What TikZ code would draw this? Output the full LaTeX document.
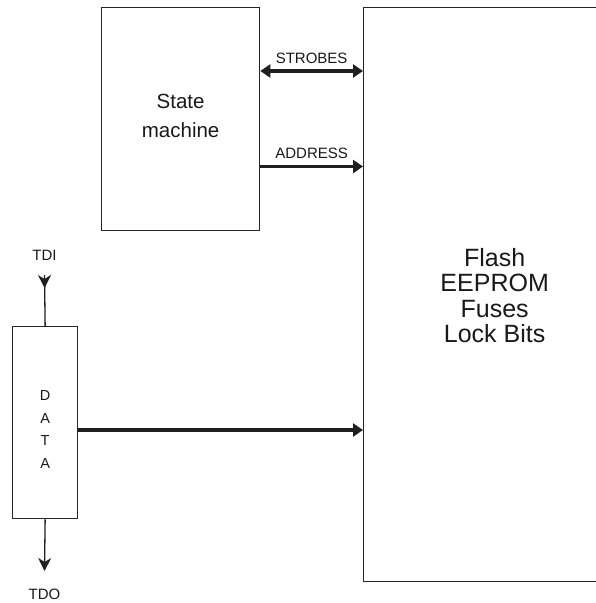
\documentclass[tikz,border=0pt]{standalone}
\usepackage{fontspec}
\setmainfont{Liberation Sans}
\usetikzlibrary{arrows.meta, decorations.markings, positioning}

\begin{document}
\begin{tikzpicture}[
        x=1pt, y=-1pt,
        block/.style={rectangle, draw=black!85, line width=1.3pt, anchor=north west,
                      inner sep=0pt},
        txt/.style={align=center, inner sep=0pt, text=black!90},
        bus/.style={line width=3.4pt, draw=black!88,
                    -{Triangle[length=10pt, width=13pt]}},
        pin/.style={line width=1.3pt, draw=black!88},
        lbl/.style={font=\fontsize{15}{18}\selectfont, text=black!90, inner sep=0pt},
    ]
    \useasboundingbox (0,0) rectangle (595,603);

    % ====== 方框 ======
    \node[block, minimum width=262pt, minimum height=574pt] (mem) at (363,7) {};
    \node[txt, font=\fontsize{25}{25.6}\selectfont] (memtxt) at (mem) [yshift=-1pt]
        {Flash\\EEPROM\\Fuses\\Lock Bits};

    \node[block, minimum width=158pt, minimum height=223pt] (sm) at (101,7) {};
    \node[txt, font=\fontsize{20.5}{28.7}\selectfont] (smtxt) at (sm) [yshift=3pt]
        {State\\machine};

    \node[block, minimum width=65pt, minimum height=192pt] (data) at (12,326) {};
    \node[txt, font=\fontsize{14.5}{22.5}\selectfont] (datatxt) at (data) [yshift=-7pt]
        {D\\A\\T\\A};

    % ====== 总线 ======
    \draw[bus, {Triangle[length=10pt, width=13pt]}-{Triangle[length=10pt, width=13pt]}]
        (sm.east |- 0,71) -- (mem.west |- 0,71)
        node[midway, above=6pt, lbl] (strobes) {STROBES};
    \draw[bus] (sm.east |- 0,166.5) -- (mem.west |- 0,166.5)
        node[midway, above=6pt, lbl] (address) {ADDRESS};
    \draw[bus] (data.east |- 0,430) -- (mem.west |- 0,430);

    % ====== TDI / TDO ======
    \node[lbl, anchor=base] (tdi) at (44.5,260) {TDI};
    \coordinate (tdistart) at (44.5,275);
    \draw[pin, decoration={markings,
            mark=at position 13pt with {\arrow{Stealth[length=13pt, width=13pt, inset=4pt]}}},
          postaction={decorate}] (tdistart) -- (data.north);

    \node[lbl, anchor=base] (tdo) at (44.5,599) {TDO};
    \coordinate (tdoend) at (44.5,571);
    \draw[pin, -{Stealth[length=13pt, width=13pt, inset=4pt]}] (data.south) -- (tdoend);

\end{tikzpicture}
\end{document}
